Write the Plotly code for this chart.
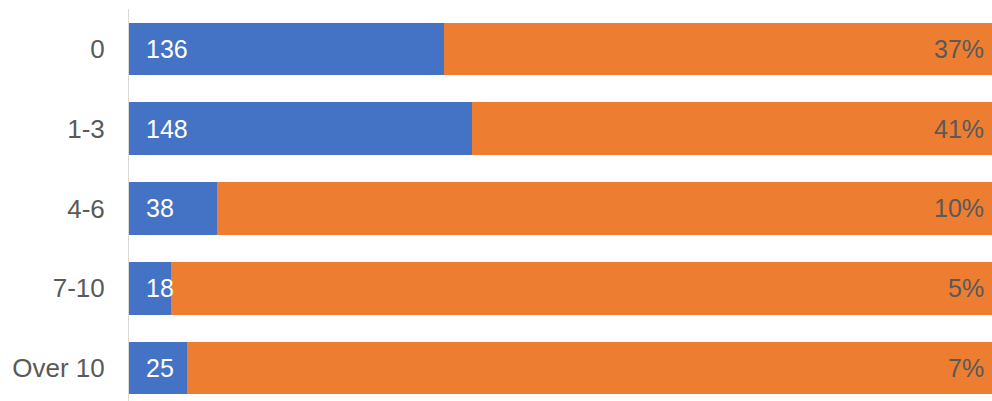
import plotly.graph_objects as go

# Number of items per respondent group
categories = ["0", "1-3", "4-6", "7-10", "Over 10"]
counts = [136, 148, 38, 18, 25]
pct_labels = ["37%", "41%", "10%", "5%", "7%"]

total = sum(counts)
remainder = [total for _ in counts]

BLUE = "#4472C4"
ORANGE = "#ED7D31"
GREY_TEXT = "#595959"
FONT = "Liberation Sans, Arial, sans-serif"

fig = go.Figure()
fig.add_trace(go.Bar(
    y=categories, x=counts, orientation="h",
    marker=dict(color=BLUE, line=dict(width=0)),
    name="Count", hoverinfo="x+y",
))
fig.add_trace(go.Bar(
    y=categories, x=remainder, orientation="h",
    marker=dict(color=ORANGE, line=dict(width=0)),
    name="Total", hoverinfo="skip",
))

annotations = []
for cat, n, p in zip(categories, counts, pct_labels):
    annotations.append(dict(
        x=0, y=cat, xref="x", yref="y", text=str(n),
        xanchor="left", yanchor="middle", xshift=15, showarrow=False,
        font=dict(family=FONT, size=25, color="white"),
    ))
    annotations.append(dict(
        x=1, y=cat, xref="paper", yref="y", text=p,
        xanchor="right", yanchor="middle", xshift=-6, showarrow=False,
        font=dict(family=FONT, size=25, color=GREY_TEXT),
    ))

fig.update_layout(
    width=992, height=401,
    margin=dict(l=129, r=0, t=9, b=0, pad=0),
    barmode="stack", bargap=0.34,
    showlegend=False,
    plot_bgcolor="white", paper_bgcolor="white",
    annotations=annotations,
    font=dict(family=FONT, size=25, color=GREY_TEXT),
    xaxis=dict(range=[0, 372.5], showgrid=False, zeroline=False,
               showticklabels=False, showline=False, fixedrange=True),
    yaxis=dict(categoryorder="array", categoryarray=categories,
               range=[4.4125, -0.5], showgrid=False, zeroline=False,
               showline=True, linecolor="#D9D9D9", linewidth=1,
               ticks="", ticklabelstandoff=18,
               tickfont=dict(family=FONT, size=26, color=GREY_TEXT),
               fixedrange=True),
)

fig.write_html("out.html")
